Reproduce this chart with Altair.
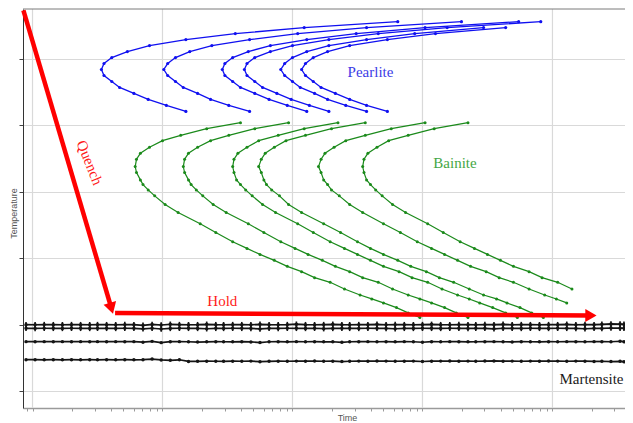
import numpy as np
import pandas as pd
import altair as alt

# ---------------- data (time stored as log10 seconds, temperature in deg C) ----------------
pearlite_temp = [656, 647, 638, 629, 620, 611, 602, 593, 584, 575, 566, 557, 548, 539, 530, 521]
pearlite_short_temp = [647, 638, 629, 620, 611, 602, 593, 584, 575, 566, 557, 548, 539, 530, 521]
pearlite_1_logt = [2.81, 2.09, 1.56, 1.18, 0.90, 0.73, 0.61, 0.55, 0.53, 0.55, 0.61, 0.67, 0.78, 0.89, 1.03, 1.18]
pearlite_2_logt = [3.30, 2.57, 2.04, 1.67, 1.38, 1.21, 1.10, 1.04, 1.01, 1.04, 1.10, 1.16, 1.27, 1.37, 1.51, 1.67]
pearlite_3_logt = [3.74, 3.02, 2.49, 2.11, 1.83, 1.66, 1.54, 1.48, 1.46, 1.48, 1.54, 1.60, 1.71, 1.82, 1.96, 2.11]
pearlite_4_logt = [3.91, 3.19, 2.66, 2.28, 2.00, 1.83, 1.71, 1.65, 1.63, 1.65, 1.71, 1.77, 1.88, 1.99, 2.13, 2.28]
pearlite_5_logt = [3.47, 2.94, 2.57, 2.28, 2.11, 2.00, 1.94, 1.91, 1.94, 2.00, 2.06, 2.17, 2.27, 2.41, 2.57]
pearlite_6_logt = [3.64, 3.10, 2.73, 2.44, 2.27, 2.16, 2.10, 2.07, 2.10, 2.16, 2.22, 2.33, 2.44, 2.57, 2.73]

bainite_temp = [504, 495, 485, 477, 467, 458, 449, 438, 429, 418, 411, 403, 394, 381, 369, 352,
                339, 325, 315, 306, 297, 288, 280, 271, 264, 254, 245, 239, 233, 226, 218, 211]
bainite_1_logt = [1.60, 1.34, 1.14, 1.00, 0.90, 0.83, 0.80, 0.79, 0.80, 0.83, 0.85, 0.89, 0.94, 1.02, 1.12, 1.29,
                  1.41, 1.54, 1.65, 1.75, 1.86, 1.96, 2.07, 2.17, 2.29, 2.40, 2.52, 2.61, 2.70, 2.80, 2.89, 2.98]
bainite_2_logt = [1.97, 1.71, 1.51, 1.37, 1.27, 1.20, 1.17, 1.16, 1.17, 1.20, 1.22, 1.26, 1.31, 1.39, 1.49, 1.66,
                  1.78, 1.91, 2.02, 2.12, 2.23, 2.33, 2.44, 2.54, 2.66, 2.77, 2.89, 2.98, 3.07, 3.17, 3.26, 3.35]
bainite_3_logt = [2.35, 2.09, 1.89, 1.74, 1.65, 1.58, 1.55, 1.54, 1.55, 1.57, 1.60, 1.64, 1.69, 1.77, 1.87, 2.04,
                  2.16, 2.29, 2.40, 2.50, 2.60, 2.70, 2.82, 2.92, 3.04, 3.15, 3.27, 3.36, 3.44, 3.54, 3.64, 3.73]
bainite_4_logt = [2.56, 2.30, 2.10, 1.95, 1.86, 1.79, 1.76, 1.74, 1.76, 1.78, 1.80, 1.84, 1.90, 1.97, 2.07, 2.24,
                  2.37, 2.50, 2.60, 2.70, 2.81, 2.91, 3.03, 3.13, 3.24, 3.36, 3.47, 3.57, 3.65, 3.75, 3.84, 3.93]
bainite_5_logt = [3.02, 2.76, 2.56, 2.41, 2.32, 2.25, 2.22, 2.20, 2.22, 2.24, 2.27, 2.30, 2.36, 2.44, 2.54, 2.70,
                  2.83, 2.96, 3.07, 3.17, 3.27, 3.37, 3.49, 3.59, 3.70, 3.82, 3.94, 4.03, 4.11]
bainite_6_logt = [3.35, 3.09, 2.89, 2.74, 2.65, 2.58, 2.55, 2.54, 2.55, 2.57, 2.60, 2.64, 2.69, 2.77, 2.87, 3.04,
                  3.16, 3.29, 3.40, 3.50, 3.60, 3.70, 3.82, 3.92, 4.04, 4.15]

martensite_logt = [-0.05, 0.02, 0.09, 0.16, 0.23, 0.30, 0.37, 0.44, 0.50, 0.57,
                   0.64, 0.71, 0.78, 0.85, 0.92, 0.99, 1.06, 1.13, 1.20, 1.27,
                   1.34, 1.41, 1.47, 1.54, 1.61, 1.68, 1.75, 1.82, 1.89, 1.96,
                   2.03, 2.10, 2.17, 2.24, 2.31, 2.38, 2.44, 2.51, 2.58, 2.65,
                   2.72, 2.79, 2.86, 2.93, 3.00, 3.07, 3.14, 3.21, 3.28, 3.35,
                   3.41, 3.48, 3.55, 3.62, 3.69, 3.76, 3.83, 3.90, 3.97, 4.04,
                   4.11, 4.18, 4.25, 4.32, 4.38, 4.45, 4.52, 4.55]
martensite_1_temp = [200.3, 200.2, 200.4, 200.3, 200.2, 200.4, 200.3, 200.2, 200.4, 200.3,
                     200.2, 200.4, 200.3, 199.4, 200.6, 199.8, 200.9, 200.4, 200.2, 200.3,
                     200.9, 200.3, 200.2, 200.4, 200.3, 200.2, 200.9, 200.3, 200.2, 200.4,
                     201.0, 200.3, 200.2, 200.4, 200.9, 200.3, 200.2, 200.4, 200.3, 200.8,
                     200.2, 200.4, 200.3, 200.2, 200.4, 200.8, 200.3, 200.2, 200.4, 200.3,
                     200.2, 200.4, 200.3, 200.9, 200.2, 200.4, 200.3, 200.2, 200.4, 200.3,
                     200.9, 200.2, 200.4, 200.3, 200.8, 201.5, 201.2, 200.8]
martensite_2_temp = [194.8, 194.7, 194.9, 194.8, 194.7, 194.9, 194.8, 194.7, 194.9, 194.8,
                     194.7, 194.9, 194.8, 194.0, 194.9, 193.8, 194.7, 194.9, 194.8, 194.7,
                     194.2, 194.8, 194.7, 194.9, 194.8, 194.7, 193.9, 194.8, 194.7, 194.9,
                     194.8, 194.7, 194.9, 194.3, 194.7, 194.9, 194.8, 194.7, 194.9, 194.8,
                     194.7, 194.2, 194.8, 194.7, 194.9, 194.8, 194.7, 194.9, 194.8, 194.7,
                     194.9, 194.8, 194.1, 194.9, 194.8, 194.7, 194.9, 194.8, 194.7, 194.9,
                     194.8, 194.7, 194.2, 194.8, 194.7, 195.3, 195.0, 194.9]
martensite_3_temp = [174.8, 174.7, 174.8, 174.7, 174.8, 174.7, 174.8, 174.7, 174.8, 174.7,
                     174.8, 174.7, 174.8, 174.0, 175.2, 173.3, 174.7, 174.8, 174.6, 174.2,
                     174.5, 174.7, 174.6, 174.5, 174.7, 174.4, 173.4, 174.6, 174.7, 174.5,
                     174.8, 174.6, 174.7, 174.5, 174.6, 173.8, 174.6, 174.7, 174.8, 174.6,
                     174.7, 174.5, 174.8, 174.6, 173.9, 174.7, 174.6, 174.8, 174.7, 174.5,
                     174.6, 174.7, 174.8, 174.6, 174.4, 174.7, 174.6, 174.5, 174.7, 174.6,
                     174.8, 174.7, 174.6, 174.8, 174.7, 174.6, 175.4, 174.7]
martensite_4_temp = [147.6, 147.6, 147.5, 147.6, 147.5, 147.6, 147.5, 147.6, 147.5, 147.6,
                     147.5, 147.6, 147.5, 147.6, 148.6, 147.3, 146.7, 147.5, 145.0, 145.2,
                     145.4, 145.3, 145.2, 145.4, 145.3, 145.5, 144.6, 145.2, 145.4, 145.3,
                     145.5, 145.4, 145.6, 145.3, 145.4, 144.8, 145.3, 145.5, 145.4, 145.6,
                     145.5, 145.3, 145.4, 145.5, 144.9, 145.4, 145.5, 145.6, 145.4, 145.5,
                     145.3, 145.6, 145.8, 145.4, 145.5, 145.3, 145.5, 145.4, 145.6, 145.5,
                     145.3, 145.5, 145.4, 145.0, 145.3, 144.8, 145.2, 144.6]

# heat-treatment path (quench then isothermal hold)
quench_logt = [-0.07, 0.607]
quench_temp = [673, 225]
hold_logt = [0.635, 4.296]
hold_temp = [218, 214]

annotation_text = ["Pearlite", "Bainite", "Martensite", "Hold", "Quench"]
annotation_logt = [2.60, 3.25, 4.30, 1.46, 0.44]
annotation_temp = [581, 444, 118, 236, 444]

grid_decades = [1, 10, 100, 1000, 10000]
temp_ticks = [100, 200, 300, 400, 500, 600]


def curve_frame(name, logt, temp):
    n = min(len(logt), len(temp))
    return pd.DataFrame({"curve": name, "order": list(range(n)),
                         "time": 10 ** np.array(logt[:n]), "temp": list(temp[:n])})


pearlite_df = pd.concat([
    curve_frame("P1", pearlite_1_logt, pearlite_temp),
    curve_frame("P2", pearlite_2_logt, pearlite_temp),
    curve_frame("P3", pearlite_3_logt, pearlite_temp),
    curve_frame("P4", pearlite_4_logt, pearlite_temp),
    curve_frame("P5", pearlite_5_logt, pearlite_short_temp),
    curve_frame("P6", pearlite_6_logt, pearlite_short_temp),
])
bainite_df = pd.concat([
    curve_frame("B1", bainite_1_logt, bainite_temp),
    curve_frame("B2", bainite_2_logt, bainite_temp),
    curve_frame("B3", bainite_3_logt, bainite_temp),
    curve_frame("B4", bainite_4_logt, bainite_temp),
    curve_frame("B5", bainite_5_logt, bainite_temp),
    curve_frame("B6", bainite_6_logt, bainite_temp),
])
martensite_df = pd.concat([
    curve_frame("M1", martensite_logt, martensite_1_temp),
    curve_frame("M2", martensite_logt, martensite_2_temp),
    curve_frame("M3", martensite_logt, martensite_3_temp),
    curve_frame("M4", martensite_logt, martensite_4_temp),
])
martensite_top_df = martensite_df[martensite_df["curve"].isin(["M1", "M2"])]
path_df = pd.concat([
    curve_frame("quench", quench_logt, quench_temp),
    curve_frame("hold", hold_logt, hold_temp),
])
head_df = pd.DataFrame({
    "time": [10 ** quench_logt[-1], 10 ** hold_logt[-1]],
    "temp": [quench_temp[-1], hold_temp[-1]],
    "angle": [163.6, 90.4],
})
ann_df = pd.DataFrame({
    "text": annotation_text,
    "time": 10 ** np.array(annotation_logt),
    "temp": annotation_temp,
    "color": ["#3c3ce6", "#45a745", "#1a1a1a", "#ff1a1a", "#ff1a1a"],
    "angle": [0, 0, 0, 0, 68],
})
grid_df = pd.DataFrame({"time": grid_decades})
top_df = pd.DataFrame({"temp": [675]})

minor_ticks = [0.9] + [k * 10 ** d for d in range(0, 5) for k in range(1, 10) if k * 10 ** d <= 36000]

xscale = alt.Scale(type="log", domain=[0.845, 36140], nice=False)
yscale = alt.Scale(domain=[75, 675], nice=False, zero=False)
xaxis = alt.Axis(values=minor_ticks, grid=False, labels=False, ticks=True, tickSize=3,
                 tickColor="#9a9a9a", domainColor="#9a9a9a", domainWidth=1.5,
                 title="Time", titleFont="Liberation Sans", titleFontSize=9,
                 titleFontWeight="normal", titleColor="#555555",
                 titleX=324, titleY=9, titleBaseline="middle")
yaxis = alt.Axis(values=temp_ticks, grid=True, gridColor="#d9d9d9", gridWidth=1.2,
                 labels=False, ticks=True, tickSize=4, tickColor="#444444",
                 domainColor="#333333", domainWidth=1,
                 title="Temperature", titleFont="Liberation Sans", titleFontSize=9,
                 titleFontWeight="normal", titleColor="#555555",
                 titleX=-10, titleY=204, titleBaseline="middle")

X = alt.X("time:Q", scale=xscale, axis=xaxis)
Y = alt.Y("temp:Q", scale=yscale, axis=yaxis)

vgrid = alt.Chart(grid_df).mark_rule(color="#d9d9d9", strokeWidth=1.2).encode(x=X)
top_border = alt.Chart(top_df).mark_rule(color="#7a7a7a", strokeWidth=1).encode(y=Y)


def curves(df, color, width, size):
    line = alt.Chart(df).mark_line(color=color, strokeWidth=width).encode(
        x=X, y=Y, detail="curve:N", order="order:Q")
    pts = alt.Chart(df).mark_circle(color=color, size=size, opacity=1).encode(x=X, y=Y)
    return line + pts


pearlite_layer = curves(pearlite_df, "#1010f0", 1.3, 10)
bainite_layer = curves(bainite_df, "#1b8a1b", 1.2, 9)
martensite_layer = curves(martensite_df, "#151515", 1.7, 12)
martensite_bars = alt.Chart(martensite_top_df).mark_point(
    shape="M0,-1L0,1", filled=False, color="#151515", strokeWidth=1.6, size=30, opacity=1
).encode(x=X, y=Y)

red_path = alt.Chart(path_df).mark_line(color="#ff0000", strokeWidth=4.5).encode(
    x=X, y=Y, detail="curve:N", order="order:Q")
red_heads = alt.Chart(head_df).mark_point(shape="triangle-up", filled=True, color="#ff0000",
                                          size=170, opacity=1).encode(
    x=X, y=Y, angle=alt.Angle("angle:Q", scale=None))

labels = alt.Chart(ann_df).mark_text(font="Liberation Serif", fontSize=15, align="center",
                                     baseline="middle").encode(
    x=X, y=Y, text="text:N", color=alt.Color("color:N", scale=None),
    angle=alt.Angle("angle:Q", scale=None))

chart = alt.layer(vgrid, top_border, pearlite_layer, bainite_layer, martensite_layer,
                  martensite_bars, red_path, red_heads, labels).properties(
    width=602, height=399, autosize="none",
    padding={"left": 15, "top": 1, "right": 0, "bottom": 15},
).configure_view(stroke=None)

chart.save("out.html", embed_options={"renderer": "svg", "actions": False})
